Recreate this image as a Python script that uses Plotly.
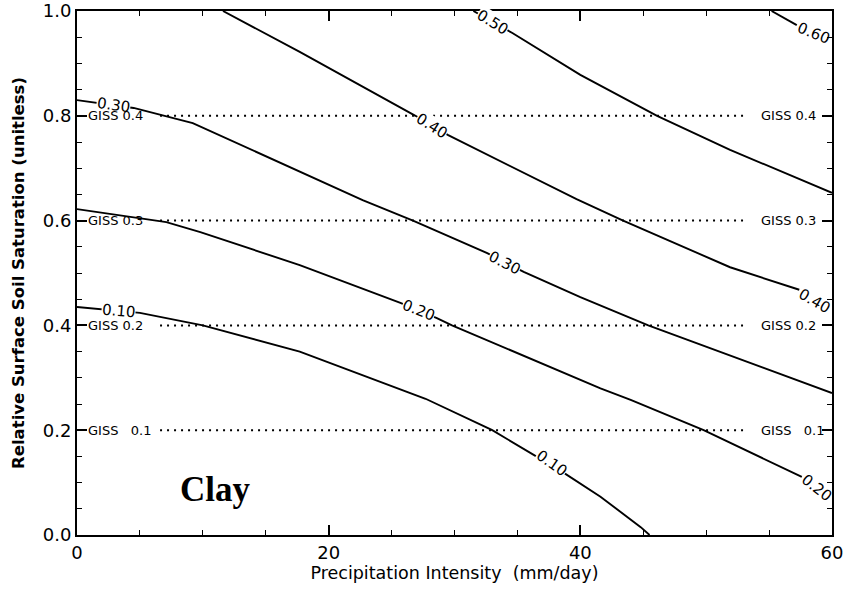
import plotly.graph_objects as go

# Contour lines (x = precipitation intensity mm/day, y = relative surface soil saturation)
c010_x = [0, 5, 10, 17.7, 27.7, 33.0, 38.6, 41.6, 44.8, 45.5]
c010_y = [0.435, 0.424, 0.40, 0.35, 0.26, 0.20, 0.12, 0.073, 0.015, 0.0]

c020_x = [0, 7.1, 9.8, 17.7, 25.7, 28.6, 29.8, 41.6, 44.0, 49.8, 57.6]
c020_y = [0.622, 0.597, 0.578, 0.515, 0.443, 0.414, 0.40, 0.28, 0.258, 0.20, 0.111]

c030_x = [0, 4.5, 9.2, 17.7, 22.7, 26.7, 32.6, 35.5, 40.0, 45.4, 60.0]
c030_y = [0.83, 0.815, 0.786, 0.693, 0.639, 0.60, 0.538, 0.502, 0.454, 0.40, 0.271]

c040_x = [11.6, 17.7, 26.9, 29.5, 39.7, 43.4, 51.9, 57.4]
c040_y = [1.0, 0.922, 0.80, 0.763, 0.641, 0.60, 0.511, 0.468]

c050_x = [31.5, 34.6, 40.0, 46.1, 51.9, 60.0]
c050_y = [1.0, 0.958, 0.878, 0.80, 0.735, 0.653]

c060_x = [55.2, 57.2]
c060_y = [1.0, 0.973]

contours = [
    (c010_x, c010_y), (c020_x, c020_y), (c030_x, c030_y),
    (c040_x, c040_y), (c050_x, c050_y), (c060_x, c060_y),
]

# Contour labels: text, x, y, angle
label_text = ["0.30", "0.10", "0.20", "0.30", "0.40", "0.50", "0.60", "0.40", "0.20", "0.10"]
label_x = [2.9, 3.3, 27.1, 34.0, 28.2, 33.0, 58.5, 58.6, 58.8, 37.7]
label_y = [0.821, 0.427, 0.429, 0.519, 0.78, 0.979, 0.958, 0.447, 0.09, 0.137]
label_angle = [8, 5, 22, 27, 32, 32, 22, 30, 38, 35]

# GISS reference levels
giss_y = [0.2, 0.4, 0.6, 0.8]
giss_labels = ["GISS\u00a0\u00a0\u00a00.1", "GISS 0.2", "GISS 0.3", "GISS 0.4"]
giss_labels_r = ["GISS\u00a0\u00a0\u00a00.1", "GISS 0.2", "GISS 0.3", "GISS 0.4"]
giss_x0 = 6.6
giss_x1 = 53.3

x_ticks = [0, 20, 40, 60]
y_ticks = [0.0, 0.2, 0.4, 0.6, 0.8, 1.0]

fig = go.Figure()

for gy in giss_y:
    fig.add_trace(go.Scatter(
        x=[giss_x0, giss_x1], y=[gy, gy], mode="lines",
        line=dict(color="black", width=2, dash="2px,5px"),
        showlegend=False, hoverinfo="skip"))

for cx, cy in contours:
    fig.add_trace(go.Scatter(
        x=cx, y=cy, mode="lines",
        line=dict(color="black", width=1.9),
        showlegend=False, hoverinfo="skip"))

annotations = []
for t, lx, ly, a in zip(label_text, label_x, label_y, label_angle):
    annotations.append(dict(
        x=lx, y=ly, text=t, showarrow=False, textangle=a,
        font=dict(family="DejaVu Sans", size=15, color="black"),
        bgcolor="white" if lx < 55 else "rgba(0,0,0,0)",
        borderpad=0, xref="x", yref="y"))

for gy, t in zip(giss_y, giss_labels):
    annotations.append(dict(
        x=0.7, y=gy, text=t, showarrow=False, xanchor="left",
        font=dict(family="DejaVu Sans", size=13, color="black"),
        xref="x", yref="y"))
for gy, t in zip(giss_y, giss_labels_r):
    annotations.append(dict(
        x=54.2, y=gy, text=t, showarrow=False, xanchor="left",
        font=dict(family="DejaVu Sans", size=13, color="black"),
        xref="x", yref="y"))

annotations.append(dict(
    x=11.0, y=0.086, text="<b>Clay</b>", showarrow=False,
    font=dict(family="Liberation Serif", size=35, color="black"),
    xref="x", yref="y"))

fig.update_layout(
    width=846, height=590,
    margin=dict(l=77, r=14, t=11, b=55),
    paper_bgcolor="white", plot_bgcolor="white",
    annotations=annotations,
    font=dict(family="DejaVu Sans", color="black"),
)

fig.update_xaxes(
    range=[0, 60], tickvals=x_ticks, ticktext=[str(v) for v in x_ticks],
    showgrid=False, zeroline=False, automargin=False,
    showline=True, linecolor="black", linewidth=2, mirror="ticks",
    ticks="inside", ticklen=10, tickwidth=1.5, tickcolor="black",
    minor=dict(ticks="inside", dtick=5, tick0=0, ticklen=5, tickwidth=1.2, tickcolor="black", showgrid=False),
    tickfont=dict(size=18, family="DejaVu Sans"),
    title=dict(text="Precipitation Intensity\u00a0\u00a0(mm/day)", font=dict(size=17.5, family="DejaVu Sans"), standoff=4),
)
fig.update_yaxes(
    range=[0, 1.0], tickvals=y_ticks, ticktext=["%.1f" % v for v in y_ticks],
    showgrid=False, zeroline=False, automargin=False,
    showline=True, linecolor="black", linewidth=2, mirror="ticks",
    ticks="inside", ticklen=10, tickwidth=1.5, tickcolor="black",
    minor=dict(ticks="inside", dtick=0.05, tick0=0, ticklen=5, tickwidth=1.2, tickcolor="black", showgrid=False),
    tickfont=dict(size=18, family="DejaVu Sans"),
    title=dict(text="<b>Relative Surface Soil Saturation (unitless)</b>", font=dict(size=16.5, family="DejaVu Sans"), standoff=14),
)

fig.write_html("out.html")
